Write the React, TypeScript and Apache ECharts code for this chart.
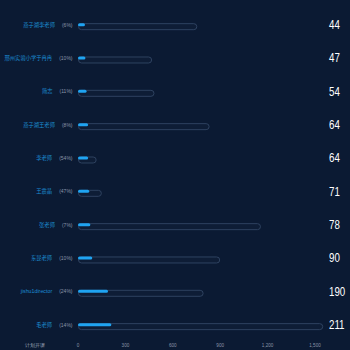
import React, { useEffect, useRef } from "react";
import * as echarts from "echarts";

const names = ["燕子湖李老师", "邢州实验小学于冉冉", "简志", "燕子湖王老师", "李老师", "王震晶", "张老师", "东昆老师", "jishu1director", "毛老师"];
const percents = ["6%", "10%", "11%", "8%", "54%", "47%", "7%", "10%", "24%", "14%"];
const values = [44, 47, 54, 64, 64, 71, 78, 90, 190, 211];
const totals = [755, 469, 484, 833, 118, 151, 1158, 900, 795, 1552];
const xTicks = [0, 300, 600, 900, 1200, 1500];

export default function App() {
  const ref = useRef<HTMLDivElement>(null);
  useEffect(() => {
    if (!ref.current) return;
    const chart = echarts.init(ref.current, null, { renderer: "svg" });
    chart.setOption({
      animation: false,
      backgroundColor: "#0b1a33",
      grid: {
        left: 78,
        right: 35,
        top: 8,
        bottom: 8.7,
        containLabel: false,
        outerBoundsMode: "none",
      },
      xAxis: {
        type: "value",
        min: xTicks[0],
        max: xTicks[xTicks.length - 1],
        interval: 300,
        splitLine: { show: false },
        axisLine: { show: false },
        axisTick: { show: false },
        axisLabel: {
          color: "#8a94a8",
          fontSize: 4.6,
          margin: 1.5,
          fontFamily: "'Liberation Sans', Arial, sans-serif",
        },
      },
      yAxis: [
        {
          type: "category",
          inverse: true,
          data: names,
          axisLine: { show: false },
          axisTick: { show: false },
          axisLabel: {
            margin: 5.5,
            formatter: (v: string, i: number) => `{n|${v}}{p|(${percents[i]})}`,
            rich: {
              n: {
                color: "#1b8ed3",
                fontSize: 5.3,
                fontFamily: "'Liberation Sans', 'Noto Sans CJK SC', sans-serif",
                padding: [0, 7, 0, 0],
              },
              p: {
                color: "#8a94a8",
                fontSize: 5,
                fontFamily: "'Liberation Sans', Arial, sans-serif",
              },
            },
          },
        },
      ],
      graphic: [
        {
          type: "text",
          left: 25,
          top: 343,
          style: { text: "计划开课", fill: "#9aa3b5", fontSize: 4.6 },
        },
      ],
      series: [
        {
          type: "bar",
          data: totals,
          barWidth: 7,
          barGap: "-100%",
          clip: false,
          itemStyle: {
            color: "#0e1d36",
            borderColor: "#2e4260",
            borderWidth: 1,
            borderRadius: 4,
          },
          z: 1,
        },
        {
          type: "bar",
          data: values,
          barWidth: 3,
          clip: false,
          itemStyle: { color: "#1fa4f2", borderRadius: 1.5 },
          z: 2,
        },
      ],
    });
    // value labels at right, positioned via the category axis scale
    const valueTexts = values.map((v, i) => {
      const y = chart.convertToPixel({ yAxisIndex: 0 }, names[i]) as number;
      return {
        type: "text",
        x: 329,
        y,
        scaleX: 0.78,
        style: {
          text: String(v),
          fill: "#ffffff",
          fontSize: 12.5,
          fontFamily: "'Liberation Sans', Arial, sans-serif",
          textAlign: "left",
          textVerticalAlign: "middle",
        },
      };
    });
    chart.setOption({
      graphic: [
        {
          type: "text",
          left: 25,
          top: 343,
          style: { text: "计划开课", fill: "#9aa3b5", fontSize: 4.6 },
        },
        ...valueTexts,
      ],
    });
    return () => chart.dispose();
  }, []);
  return (
    <div
      ref={ref}
      style={{ position: "absolute", left: 0, top: 0, width: 350, height: 350 }}
    />
  );
}
